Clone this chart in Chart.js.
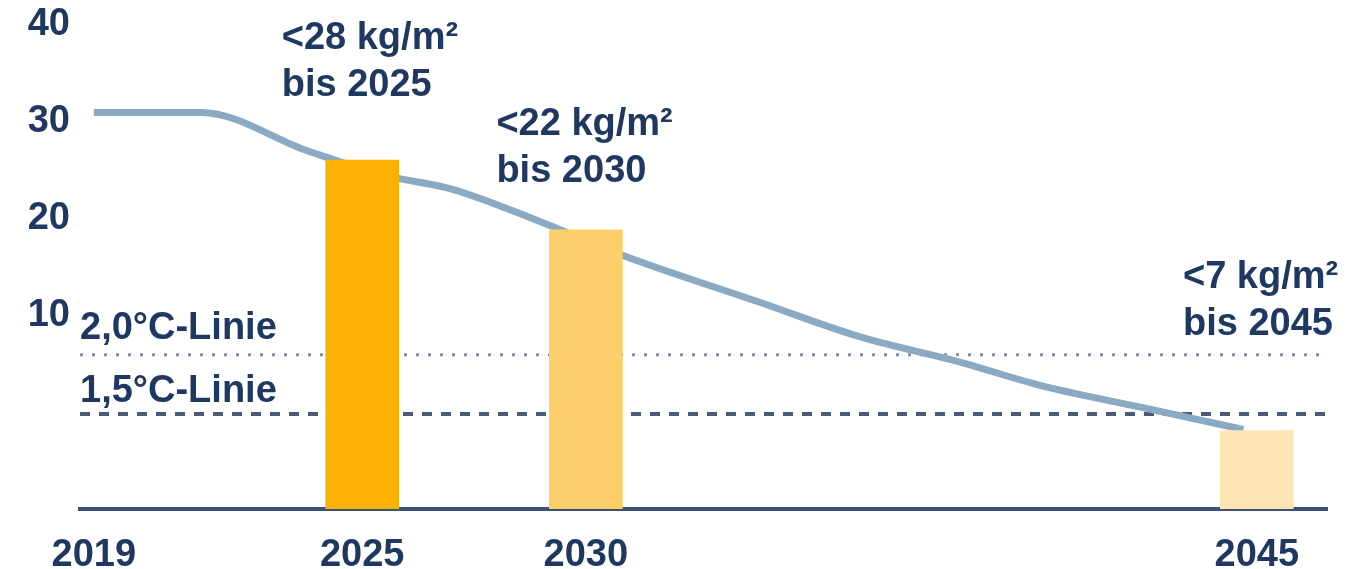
<!DOCTYPE html>
<html>
<head>
<meta charset="utf-8">
<script src="https://cdn.jsdelivr.net/npm/chart.js@4.4.0/dist/chart.umd.min.js"></script>
<style>
  html, body { margin: 0; padding: 0; background: #ffffff; }
  #wrap { width: 1352px; height: 569px; position: relative; }
</style>
</head>
<body>
<div id="wrap"><canvas id="chart"></canvas></div>
<script>
// ticks
const xTicks = [2019, 2025, 2030, 2045];
const yTicks = [10, 20, 30, 40];

// emissions path (kg CO2 / m²)
const lineYears  = [2019, 2021.4, 2023.8, 2025.5, 2027.0, 2029.0, 2030.8, 2033.9, 2036.1, 2038.4, 2040.2, 2042.4, 2044.7];
const lineValues = [30.9, 30.9,   26.9,   24.4,   23.0,   19.6,   16.2,   11.3,    7.8,    5.1,    2.7,    0.5,   -1.8];

// target bars
const barYears  = [2025, 2030, 2045];
const barValues = [26.0, 18.8, -1.9];
const barTexts  = ['<28 kg/m²', '<22 kg/m²', '<7 kg/m²'];

// climate lines
const limitNames  = ['2,0°C-Linie', '1,5°C-Linie'];
const limitValues = [5.9, -0.2];

const xMin = 2018.69, xMax = 2046.57;
const yMin = -10, yMax = 42.5;

const navy = '#1f3861';
const font = 'bold 38px "Liberation Sans", Arial, sans-serif';

// where the target texts sit (x in years, y in axis units)
const textPos = [
  { x: 2023.2, y: 37.4 },
  { x: 2028.0, y: 28.6 },
  { x: 2043.35, y: 12.8 }
];

const labelPlugin = {
  id: 'labels',
  afterDatasetsDraw(chart) {
    const ctx = chart.ctx, xs = chart.scales.x, ys = chart.scales.y;
    ctx.save();
    ctx.font = font;
    ctx.fillStyle = navy;
    ctx.textBaseline = 'alphabetic';
    ctx.textAlign = 'left';
    barTexts.forEach((t, i) => {
      const p = textPos[i];
      const px = xs.getPixelForValue(p.x), py = ys.getPixelForValue(p.y);
      ctx.fillText(t, px, py);
      ctx.fillText('bis ' + barYears[i], px, py + 47);
    });
    const offs = [16, 12];
    limitNames.forEach((n, i) => {
      ctx.fillText(n, chart.chartArea.left, ys.getPixelForValue(limitValues[i]) - offs[i]);
    });
    ctx.restore();
  }
};

new Chart(document.getElementById('chart'), {
  data: {
    datasets: [
      {
        type: 'bar',
        order: 0,
        data: barYears.map((x, i) => ({ x: x, y: barValues[i] })),
        backgroundColor: ['#fbb004', '#fdcf6b', '#fde6b4'],
        base: yMin,
        barThickness: 73,
        grouped: false
      },
      {
        type: 'line',
        order: 1,
        data: lineYears.map((x, i) => ({ x: x, y: lineValues[i] })),
        borderColor: '#8aaac4',
        borderWidth: 7,
        pointRadius: 0,
        cubicInterpolationMode: 'monotone',
        fill: false
      },
      {
        type: 'line',
        order: 2,
        data: [{ x: xMin, y: limitValues[0] }, { x: xMax, y: limitValues[0] }],
        borderColor: '#8290a7',
        borderWidth: 3,
        borderDash: [3, 9],
        pointRadius: 0
      },
      {
        type: 'line',
        order: 3,
        data: [{ x: xMin, y: limitValues[1] }, { x: xMax, y: limitValues[1] }],
        borderColor: '#4a5a77',
        borderWidth: 4,
        borderDash: [10, 9],
        pointRadius: 0
      }
    ]
  },
  options: {
    responsive: true,
    maintainAspectRatio: false,
    animation: false,
    layout: { padding: { left: 0, right: 25, top: 0, bottom: 0 } },
    plugins: { legend: { display: false }, tooltip: { enabled: false } },
    scales: {
      x: {
        type: 'linear',
        min: xMin,
        max: xMax,
        offset: false,
        z: 1,
        afterBuildTicks: s => { s.ticks = xTicks.map(v => ({ value: v })); },
        afterFit: s => { s.height = 60; s.paddingLeft = 0; s.paddingRight = 0; },
        grid: { display: false, drawTicks: false },
        border: { display: true, color: '#3f5170', width: 4 },
        ticks: {
          padding: 24,
          color: navy,
          font: { family: '"Liberation Sans", Arial, sans-serif', size: 38, weight: 'bold' },
          callback: v => String(v),
          maxRotation: 0,
          autoSkip: false
        }
      },
      y: {
        type: 'linear',
        min: yMin,
        max: yMax,
        afterBuildTicks: s => { s.ticks = yTicks.map(v => ({ value: v })); },
        afterFit: s => { s.width = 80; s.paddingTop = 0; s.paddingBottom = 0; },
        grid: { display: false, drawTicks: false },
        border: { display: false },
        ticks: {
          padding: 10,
          color: navy,
          font: { family: '"Liberation Sans", Arial, sans-serif', size: 38, weight: 'bold' },
          callback: v => String(v)
        }
      }
    }
  },
  plugins: [labelPlugin]
});
</script>
</body>
</html>
